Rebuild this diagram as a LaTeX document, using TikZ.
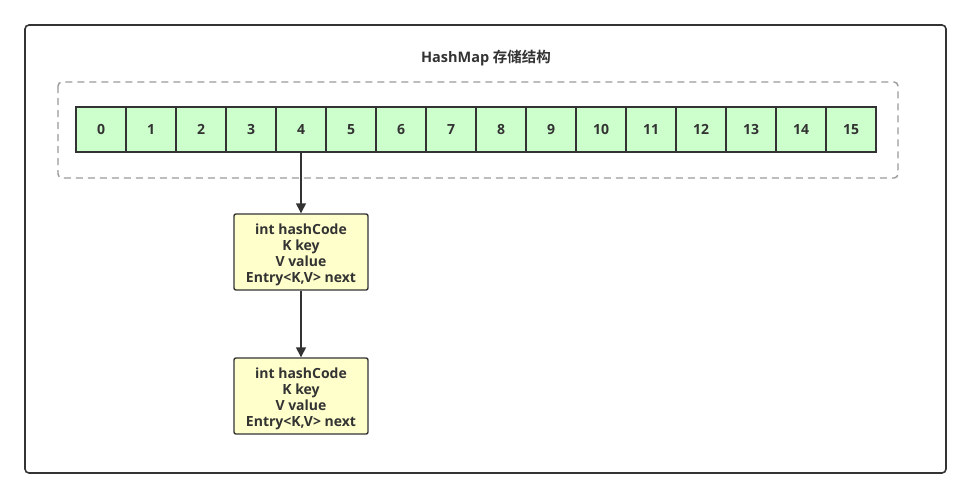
\documentclass[tikz,border=0pt]{standalone}
\usepackage{fontspec}
\setmainfont{Open Sans}[BoldFont={* Bold}]
\newfontfamily\cjkfont{Noto Sans CJK SC}[BoldFont={* Bold}]
\usetikzlibrary{arrows.meta}
\definecolor{linec}{HTML}{333333}
\definecolor{cellfill}{HTML}{CCFFCC}
\definecolor{entryfill}{HTML}{FFFFCC}
\definecolor{dashc}{HTML}{999999}
\tikzset{
  cellbox/.style={draw=linec, line width=1.4pt, fill=cellfill, minimum width=50pt, minimum height=45pt, inner sep=0pt, font=\bfseries\fontsize{14}{16}\selectfont, text=linec},
  entrybox/.style={draw=linec, line width=1.4pt, fill=entryfill, rounded corners=2pt, minimum width=134pt, minimum height=76pt, inner sep=0pt},
  entrytext/.style={align=center, font=\bfseries\fontsize{14}{16}\selectfont, text=linec, inner sep=0pt},
  conn/.style={draw=linec, line width=1.4pt, -{Triangle[length=10pt,width=10pt]}}
}
\begin{document}
\begin{tikzpicture}[x=1pt,y=-1pt]
\useasboundingbox (0,0) rectangle (972,499);
\draw[linec, line width=1.6pt, rounded corners=4pt] (25,25) rectangle (946,473);
\node[font=\bfseries\fontsize{14.5}{16}\selectfont, text=linec] (title) at (486,58) {HashMap {\cjkfont\bfseries 存储结构}};
\draw[dashc, line width=1.4pt, dash pattern=on 7pt off 5pt, rounded corners=4pt] (58,82) rectangle (898,178);
\foreach \i in {0,...,15} {
  \node[cellbox] (c\i) at ({101+50*\i},129.5) {\i};
}
\node[entrybox] (e1) at (301,252) {};
\node[entrybox] (e2) at (301,396) {};
\node[entrytext] (t1) at (301,254.5) {int hashCode\\K key\\V value\\Entry<K,V> next};
\node[entrytext] (t2) at (301,398.5) {int hashCode\\K key\\V value\\Entry<K,V> next};
\draw[conn] (c4.south) -- (e1.north);
\draw[conn] (e1.south) -- (e2.north);
\end{tikzpicture}
\end{document}
